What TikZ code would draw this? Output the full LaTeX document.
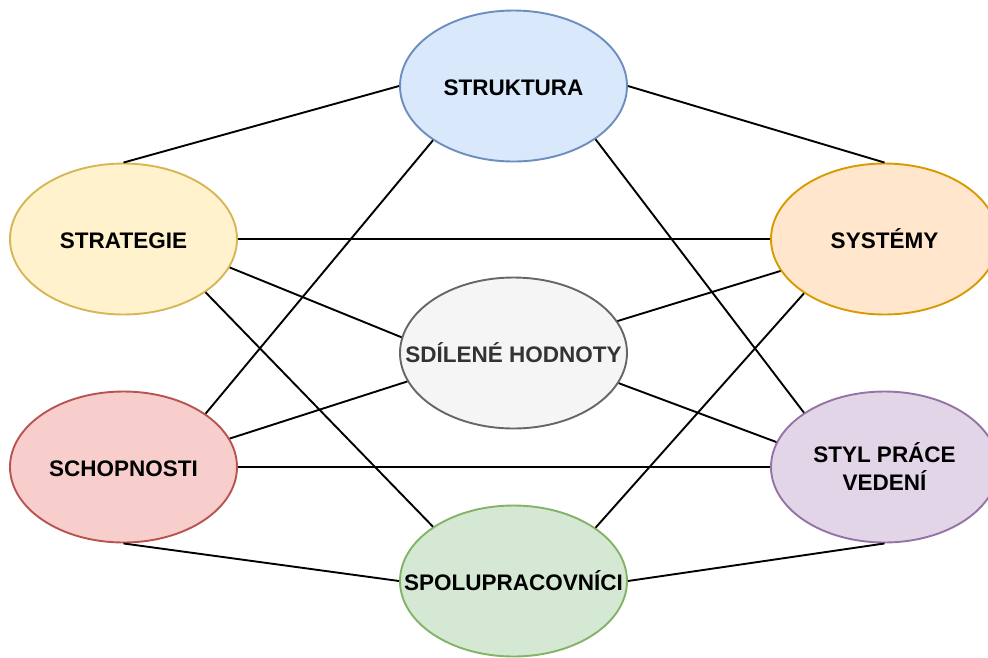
\documentclass[tikz,border=0pt]{standalone}
\usepackage{fontspec}
\setmainfont{Liberation Sans}
\usetikzlibrary{shapes.geometric}

% draw.io style palette
\definecolor{blueFill}{HTML}{DAE8FC}\definecolor{blueLine}{HTML}{6C8EBF}
\definecolor{yellowFill}{HTML}{FFF2CC}\definecolor{yellowLine}{HTML}{D6B656}
\definecolor{orangeFill}{HTML}{FFE6CC}\definecolor{orangeLine}{HTML}{D79B00}
\definecolor{grayFill}{HTML}{F5F5F5}\definecolor{grayLine}{HTML}{666666}
\definecolor{grayText}{HTML}{333333}
\definecolor{redFill}{HTML}{F8CECC}\definecolor{redLine}{HTML}{B85450}
\definecolor{purpleFill}{HTML}{E1D5E7}\definecolor{purpleLine}{HTML}{9673A6}
\definecolor{greenFill}{HTML}{D5E8D4}\definecolor{greenLine}{HTML}{82B366}

% zero-size text box so the label never enlarges the oval; capitals centred on the node
\newcommand{\ovaltext}[1]{\makebox[0pt]{\raisebox{-9pt}[0pt][0pt]{\begin{tabular}{@{}c@{}}#1\end{tabular}}}}

\tikzset{
  oval/.style={ellipse, draw, line width=1.9pt, inner sep=0pt,
    minimum width=227pt, minimum height=151pt,
    font=\fontsize{22.5}{27.5}\selectfont\bfseries, text=black},
  link/.style={draw=black, line width=1.9pt}
}

\begin{document}
\begin{tikzpicture}[x=1pt, y=-1pt]
  \useasboundingbox (0,0) rectangle (988,657);
  \clip (0,0) rectangle (988,657);

  % ovals
  \node[oval, fill=blueFill, draw=blueLine]     (struktura)  at (513.5, 86)  {\ovaltext{STRUKTURA}};
  \node[oval, fill=yellowFill, draw=yellowLine] (strategie)  at (123.5, 239) {\ovaltext{STRATEGIE}};
  \node[oval, fill=orangeFill, draw=orangeLine] (systemy)    at (884.5, 239) {\ovaltext{SYSTÉMY}};
  \node[oval, fill=grayFill, draw=grayLine, text=grayText] (sdilene) at (513.5, 353) {\ovaltext{SDÍLENÉ HODNOTY}};
  \node[oval, fill=redFill, draw=redLine]       (schopnosti) at (123.5, 467) {\ovaltext{SCHOPNOSTI}};
  \node[oval, fill=purpleFill, draw=purpleLine] (styl)       at (884.5, 467) {\ovaltext{STYL PRÁCE\\VEDENÍ}};
  \node[oval, fill=greenFill, draw=greenLine]   (spolu)      at (513.5, 581) {\ovaltext{SPOLUPRACOVNÍCI}};

  % connectors
  \draw[link] (struktura.west) -- (strategie.north);
  \draw[link] (struktura.east) -- (systemy.north);
  \draw[link] (strategie.east) -- (systemy.west);
  \draw[link] (strategie.-15) -- (sdilene.172.3);
  \draw[link] (strategie.-33.7) -- (spolu.146.3);
  \draw[link] (struktura.-146.3) -- (schopnosti.33.7);
  \draw[link] (struktura.-33.7) -- (styl.146.3);
  \draw[link] (sdilene) -- (systemy);
  \draw[link] (sdilene.-16.6) -- (styl.167.8);
  \draw[link] (schopnosti.15.4) -- (sdilene.-165.5);
  \draw[link] (schopnosti.east) -- (styl.west);
  \draw[link] (systemy.-146.3) -- (spolu.33.7);
  \draw[link] (schopnosti.south) -- (spolu.west);
  \draw[link] (spolu.east) -- (styl.south);
\end{tikzpicture}
\end{document}
